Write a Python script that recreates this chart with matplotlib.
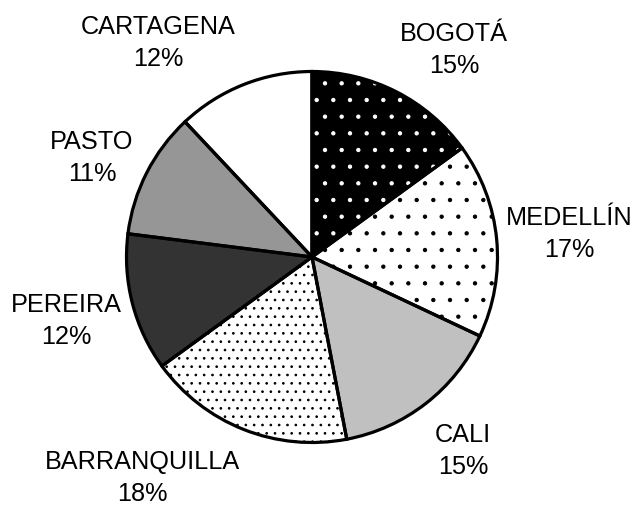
import matplotlib
matplotlib.use("Agg")

import matplotlib.pyplot as plt

# Data
cities = ["BOGOTÁ", "MEDELLÍN", "CALI", "BARRANQUILLA", "PEREIRA", "PASTO", "CARTAGENA"]
shares = [15, 17, 15, 18, 12, 11, 12]

# Styling per slice
face_colors = ["#000000", "#ffffff", "#c0c0c0", "#ffffff", "#333333", "#969696", "#ffffff"]
hatch_colors = ["#ffffff", "#000000", "#000000", "#000000", "#000000", "#000000", "#000000"]
hatches = [".", ".", None, "..", None, None, None]

# label centres in pixel coords (from top-left)
label_xy = [(454, 50), (569, 234), (463, 451), (142, 478), (66, 321), (92, 158), (158, 43)]

plt.rcParams["hatch.linewidth"] = 0.7

W, H = 634, 506
fig = plt.figure(figsize=(W / 100, H / 100), dpi=100)
ax = fig.add_axes([0, 0, 1, 1])

center = (312, H - 258)
radius = 185.5

# fill + hatch layer (hatch takes the edge colour)
wedges, _ = ax.pie(shares, center=center, radius=radius, startangle=90,
                   counterclock=False, frame=True,
                   wedgeprops=dict(linewidth=0))
for w, fc, hc, h in zip(wedges, face_colors, hatch_colors, hatches):
    w.set_facecolor(fc)
    w.set_edgecolor(hc)
    w.set_hatch(h)

# outline layer
outline, _ = ax.pie(shares, center=center, radius=radius, startangle=90,
                    counterclock=False, frame=True,
                    wedgeprops=dict(fill=False, edgecolor="black", linewidth=2.3))

ax.set_xlim(0, W)
ax.set_ylim(0, H)
ax.set_aspect("equal")
ax.axis("off")

for name, val, (x, y) in zip(cities, shares, label_xy):
    ax.text(x, H - y, f"{name}\n{val}%", ha="center", va="center",
            fontsize=18.2, family="Liberation Sans", linespacing=1.45)

fig.savefig("out.png", dpi=100)
plt.close(fig)
